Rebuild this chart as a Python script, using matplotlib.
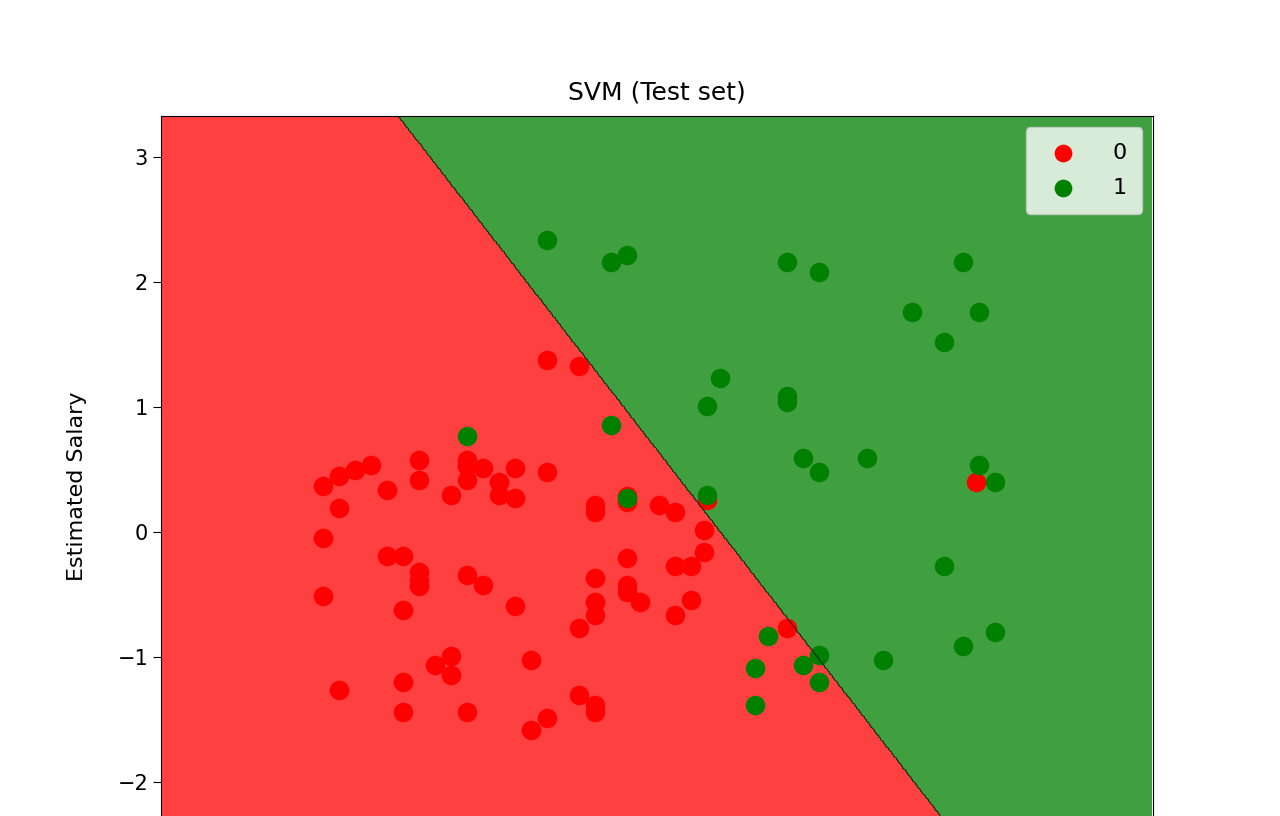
import numpy as np
import matplotlib
matplotlib.use("Agg")
import matplotlib.pyplot as plt
from matplotlib.colors import ListedColormap

# scaled Age / Estimated Salary
red_x = [-1.99, -1.89, -1.79, -1.69, -1.59, -1.89, -1.99, -1.99, -1.59, -1.49, -1.39, -1.39, -1.39, -1.39,
         -1.39, -1.49, -1.19, -1.09, -1.09, -1.09, -0.99, -0.89, -0.89, -0.79, -0.79, -1.09, -0.99, -0.79,
         -0.59, -0.59, -0.39, -0.29, -0.29, -0.09, -0.09, 0.11, 0.21, 0.41, 0.39, 0.39, 0.21, 0.31, 0.31,
         0.21, -0.01, -0.09, -0.09, -0.29, -0.29, -0.29, -0.39, -0.09, -1.29, -1.19, -1.19, -1.49, -1.49,
         -1.89, -1.09, -0.69, -0.69, -0.59, -0.39, -0.29, -0.29, 0.91, 2.09]
red_y = [0.37, 0.45, 0.50, 0.54, 0.34, 0.19, -0.05, -0.51, -0.19, -0.19, 0.58, 0.42, -0.32, -0.38,
         -0.43, -0.62, 0.30, 0.58, 0.53, 0.42, 0.51, 0.40, 0.30, 0.27, 0.51, -0.34, -0.42, -0.59,
         0.48, 1.38, 1.33, 0.22, 0.16, 0.24, 0.29, 0.22, 0.16, 0.26, 0.02, -0.16, -0.27, -0.27, -0.54,
         -0.66, -0.56, -0.42, -0.48, -0.37, -0.56, -0.66, -0.77, -0.21, -1.06, -0.99, -1.14, -1.20, -1.44,
         -1.26, -1.44, -1.02, -1.58, -1.49, -1.30, -1.38, -1.44, -0.77, 0.40]
green_x = [-0.59, -0.19, -0.09, 0.91, 1.11, 2.01, 1.69, 2.11, 1.89, 0.49, 0.41, 0.91, 0.91, -0.19,
           -1.09, 1.01, 1.11, 1.41, 2.11, 2.21, 0.41, -0.09, 1.89, 0.79, 0.71, 1.01, 1.11, 1.11, 0.71,
           1.51, 2.01, 2.21]
green_y = [2.34, 2.16, 2.22, 2.16, 2.08, 2.16, 1.76, 1.76, 1.52, 1.23, 1.01, 1.09, 1.04, 0.86,
           0.77, 0.59, 0.48, 0.59, 0.54, 0.40, 0.30, 0.27, -0.27, -0.83, -1.09, -1.06, -0.98, -1.20, -1.38,
           -1.02, -0.91, -0.80]

# linear decision boundary: w0*x + w1*y + b > 0 -> class 1
w0, w1, b = 1.653, 1.0, -0.819

fig = plt.figure(figsize=(12.8, 8.16), dpi=100)
ax = fig.add_axes([0.126, -0.0502, 0.775, 0.908])

xx, yy = np.meshgrid(np.arange(-3.0, 3.2, 0.01), np.arange(-2.6, 3.34, 0.01))
zz = (w0 * xx + w1 * yy + b > 0).astype(int)
ax.contourf(xx, yy, zz, levels=[-0.5, 0.5, 1.5], cmap=ListedColormap(("red", "green")), alpha=0.75)
ax.contour(xx, yy, zz, levels=[0.5], colors="#222222", linewidths=0.7)

ax.scatter(red_x, red_y, c="red", s=170, label="0")
ax.scatter(green_x, green_y, c="green", s=170, label="1")

ax.set_xlim(-3.0, 3.2)
ax.set_ylim(-2.6, 3.33)
ax.set_yticks([-2, -1, 0, 1, 2, 3])
ax.tick_params(axis="x", labelbottom=False)
ax.tick_params(labelsize=15, length=6)
ax.set_title("SVM (Test set)", fontsize=18, pad=12)
ax.set_ylabel("Estimated Salary", fontsize=16, labelpad=22)
ax.legend(loc="upper right", fontsize=16, markerscale=0.9, labelspacing=0.7,
          borderpad=0.7, handletextpad=1.2)

fig.savefig("out.png", dpi=100)
